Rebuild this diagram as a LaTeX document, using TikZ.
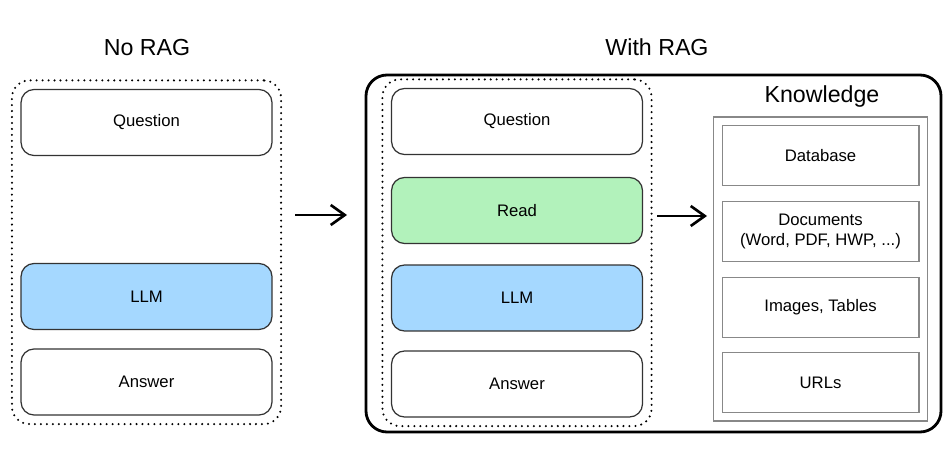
\documentclass[tikz,border=0pt]{standalone}
\usepackage{fontspec}
\setmainfont{Liberation Sans}
\usetikzlibrary{positioning, arrows.meta, fit}
\definecolor{edgegray}{HTML}{333333}
\definecolor{kgray}{HTML}{888888}
\definecolor{llmblue}{HTML}{A5D8FF}
\definecolor{readgreen}{HTML}{B2F2BB}
\tikzset{
    stage/.style = {draw=edgegray, line width=0.7pt, rounded corners=0.26cm,
        minimum width=5.02cm, minimum height=1.32cm, font=\fontsize{9.5}{11}\selectfont},
    source/.style = {draw=kgray, line width=0.6pt, minimum width=3.94cm,
        minimum height=1.2cm, align=center, font=\fontsize{9.5}{11.5}\selectfont},
    pipeline/.style = {draw, line width=1.3pt, line cap=round, dash pattern=on 0pt off 3.4pt,
        rounded corners=0.35cm, inner sep=0.17cm},
    heading/.style = {font=\fontsize{13.2}{15}\selectfont},
    flow/.style = {-{Straight Barb[length=2.8mm, width=4mm, line width=1.5pt]}, line width=1.5pt},
}
\begin{document}
\begin{tikzpicture}[x=0.02cm, y=-0.02cm]
    \useasboundingbox (0, 0) rectangle (952, 452);

    % without retrieval
    \node[heading] (no rag) at (147, 48) {No RAG};
    \node[stage] (q1) at (146.5, 122.5) {Question};
    \node[stage, fill=llmblue] (llm1) at (146.5, 296.5) {LLM};
    \node[stage] (a1) at (146.5, 382) {Answer};
    \node[pipeline, fit=(q1) (a1)] (pipe1) {};

    % with retrieval
    \node[heading] (with rag) at (657, 47) {With RAG};
    \draw[line width=1.6pt, rounded corners=0.42cm] (366, 75) rectangle (941, 432);
    \node[stage] (q2) at (517, 121.5) {Question};
    \node[stage, fill=readgreen] (read) at (517, 210.5) {Read};
    \node[stage, fill=llmblue] (llm2) at (517, 298) {LLM};
    \node[stage] (a2) at (517, 384) {Answer};
    \node[pipeline, fit=(q2) (a2)] (pipe2) {};

    % knowledge sources
    \node[heading] (knowledge) at (822, 97) {Knowledge};
    \node[source] (db) at (820.5, 155.5) {Database};
    \node[source] (docs) at (820.5, 231.5) {Documents\\(Word, PDF, HWP, ...)};
    \node[source] (imgs) at (820.5, 307.5) {Images, Tables};
    \node[source] (urls) at (820.5, 382.5) {URLs};
    \node[draw=kgray, line width=0.6pt, inner sep=0.16cm, fit=(db) (urls)] (kb) {};

    \coordinate (arr1 start) at (295, 215);
    \coordinate (arr1 end) at (347, 215);
    \coordinate (arr2 start) at (657, 216);
    \coordinate (arr2 end) at (707, 216);
    \draw[flow] (arr1 start) -- (arr1 end);
    \draw[flow] (arr2 start) -- (arr2 end);
\end{tikzpicture}
\end{document}
